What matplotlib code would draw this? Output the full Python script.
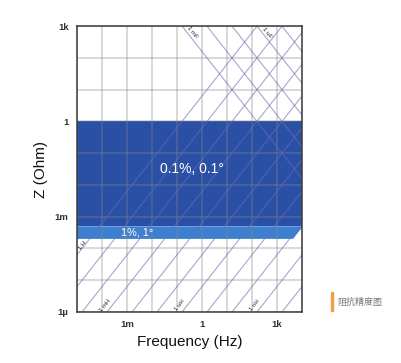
import numpy as np
import matplotlib
matplotlib.use("Agg")
import matplotlib.pyplot as plt

plt.rcParams['font.family'] = ['Liberation Sans', 'Noto Sans CJK SC', 'DejaVu Sans']

# eixos (log-log)
f_min, f_max = 1e-5, 1e4
z_min, z_max = 1e-6, 1e3

x_ticks = [1e-3, 1, 1e3]
x_tick_labels = ['1m', '1', '1k']
y_ticks = [1e-6, 1e-3, 1, 1e3]
y_tick_labels = ['1\u00b5', '1m', '1', '1k']

# faixas de precisao
band_high = (1e-3 * 0.5, 1.0)      # 0.1%, 0.1 graus
band_low = (2e-4, 5e-4)            # 1%, 1 graus
band_low_cut_f = 4.4e3             # canto cortado na direita

# linhas de indutancia e capacitancia
inductances = [10.0 ** k for k in range(0, -12, -1)]
capacitances = [10.0 ** k for k in range(-3, -9, -1)]
l_labels = {1.0: '1 H', 1e-3: '1 mH', 1e-6: '1 uH', 1e-9: '1 nH'}
c_labels = {1e-3: '1 mF', 1e-6: '1 uF'}

fig = plt.figure(figsize=(4.01, 3.63), dpi=100)
ax = fig.add_axes([0.192, 0.1405, 0.561, 0.7875])
ax.set_xscale('log')
ax.set_yscale('log')
ax.set_xlim(f_min, f_max)
ax.set_ylim(z_min, z_max)

dark_blue = '#2a50a6'
light_blue = '#3d80cf'

ax.fill_between([f_min, f_max], band_high[0], band_high[1], color=dark_blue, zorder=1, lw=0)
# faixa clara com canto inclinado (segue uma reta de indutancia)
slope_L = band_low[0] / (2 * np.pi * band_low_cut_f)
f_top = band_low[1] / (2 * np.pi * slope_L)
poly_f = [f_min, band_low_cut_f, f_top, f_min]
poly_z = [band_low[0], band_low[0], band_low[1], band_low[1]]
ax.fill(poly_f, poly_z, color=light_blue, zorder=1, lw=0)

f = np.logspace(-5, 4, 200)
line_col = (0.42, 0.42, 0.72)
for L in inductances:
    ax.plot(f, 2 * np.pi * f * L, color=line_col, alpha=0.6, lw=0.8, zorder=3)
for C in capacitances:
    ax.plot(f, 1 / (2 * np.pi * f * C), color=line_col, alpha=0.6, lw=0.8, zorder=3)

# grade em cada decada
for d in range(-5, 5):
    ax.axvline(10.0 ** d, color=(0.52, 0.52, 0.52), alpha=0.4, lw=1.1, zorder=2)
for d in range(-6, 4):
    ax.axhline(10.0 ** d, color=(0.52, 0.52, 0.52), alpha=0.4, lw=1.1, zorder=2)

# rotulos das linhas
ang = 51.8
for L, txt in l_labels.items():
    if L == 1.0:
        fx = 1.75e-5
        zz = 2 * np.pi * fx * L * 1.1
        ax.text(fx * 0.95, zz, txt, rotation=ang, fontsize=4.3, color='#222222',
                ha='center', va='center', zorder=5)
    else:
        zz = 1.6e-6
        fx = zz / (2 * np.pi * L) / 1.9
        ax.text(fx, zz, txt, rotation=ang, fontsize=4.3, color='#222222',
                ha='center', va='center', zorder=5)
for C, txt in c_labels.items():
    zz = 620
    fx = 1 / (2 * np.pi * zz * C) * 1.55
    ax.text(fx, zz, txt, rotation=-ang, fontsize=4.3, color='#222222',
            ha='center', va='center', zorder=5)

ax.text(0.4, 3.2e-2, '0.1%, 0.1\u00b0', color='white', fontsize=10,
        ha='center', va='center', zorder=5)
ax.text(2.5e-3, 3.3e-4, '1%, 1\u00b0', color='white', fontsize=7.8,
        ha='center', va='center', zorder=5)

ax.set_xticks(x_ticks)
ax.set_xticklabels(x_tick_labels)
ax.set_yticks(y_ticks)
ax.set_yticklabels(y_tick_labels)
ax.minorticks_off()
ax.tick_params(length=0, labelsize=6.8, labelcolor='#333333', pad=6)
for lab in ax.get_xticklabels() + ax.get_yticklabels():
    lab.set_fontweight('bold')

for s in ax.spines.values():
    s.set_color('#3a3a3a')
    s.set_linewidth(1.1)
    s.set_zorder(6)

ax.set_xlabel('Frequency (Hz)', fontsize=11, color='#111111', labelpad=4)
ax.set_ylabel('Z (Ohm)', fontsize=11, color='#111111', labelpad=5)

# legenda lateral
fig.patches.append(plt.Rectangle((331 / 401, 1 - 311 / 363), 2 / 401, 19 / 363,
                                 transform=fig.transFigure, color='#f0a040'))
fig.text(337 / 401, 1 - 302 / 363, '阻抗精度图', fontsize=6.5, color='#777777',
         va='center', ha='left')

fig.savefig('out.png', dpi=100)
